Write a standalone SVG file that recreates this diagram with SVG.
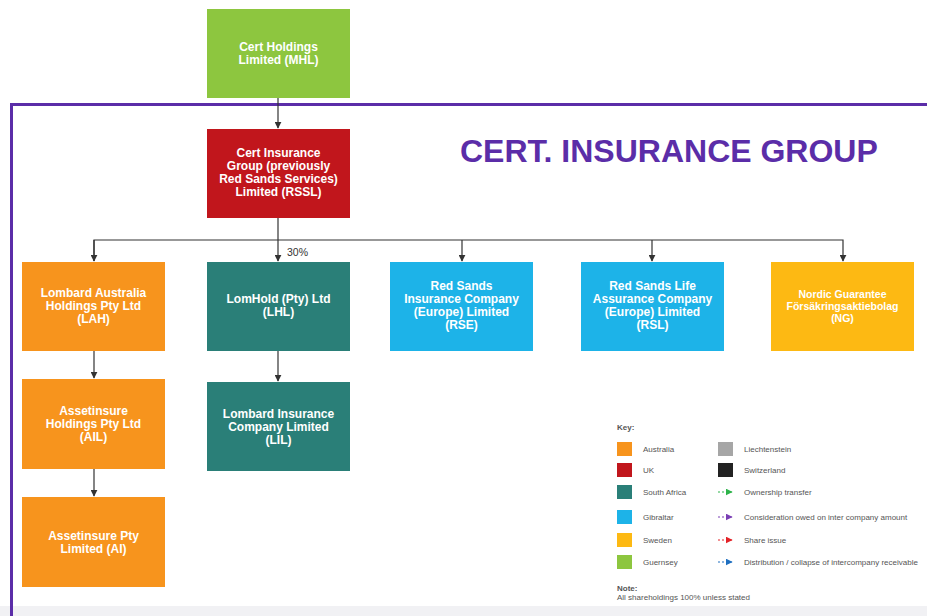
<svg xmlns="http://www.w3.org/2000/svg" width="927" height="616" viewBox="0 0 927 616">
<defs>
<marker id="ah" viewBox="0 0 10 10" refX="9" refY="5" markerWidth="7" markerHeight="7" orient="auto" markerUnits="userSpaceOnUse"><path d="M0,0 L10,5 L0,10 z" fill="#333"/></marker>
<marker id="kg" viewBox="0 0 10 10" refX="9" refY="5" markerWidth="7" markerHeight="7" orient="auto" markerUnits="userSpaceOnUse"><path d="M0,0 L10,5 L0,10 z" fill="#2DB34A"/></marker>
<marker id="kp" viewBox="0 0 10 10" refX="9" refY="5" markerWidth="7" markerHeight="7" orient="auto" markerUnits="userSpaceOnUse"><path d="M0,0 L10,5 L0,10 z" fill="#7B3FB5"/></marker>
<marker id="kr" viewBox="0 0 10 10" refX="9" refY="5" markerWidth="7" markerHeight="7" orient="auto" markerUnits="userSpaceOnUse"><path d="M0,0 L10,5 L0,10 z" fill="#E32227"/></marker>
<marker id="kb" viewBox="0 0 10 10" refX="9" refY="5" markerWidth="7" markerHeight="7" orient="auto" markerUnits="userSpaceOnUse"><path d="M0,0 L10,5 L0,10 z" fill="#1F6FC0"/></marker>
</defs>
<style>
.bt{font-family:"Liberation Sans",Arial,sans-serif;font-weight:bold;font-size:12px;fill:#fff;text-anchor:middle}
.ng{font-size:10.5px}
.kt{font-family:"Liberation Sans",Arial,sans-serif;font-size:8px;fill:#555}
.c{stroke:#333;stroke-width:1.2;fill:none}
.au{fill:#F7941D}.uk{fill:#C1161C}.za{fill:#2A7F78}.gi{fill:#1DB3E8}.se{fill:#FDB913}.gg{fill:#8DC63F}
</style>
<rect width="927" height="616" fill="#fff"/>
<rect x="0" y="606" width="927" height="10" fill="#F1F1F4"/>
<rect x="11.5" y="104.5" width="940" height="540" fill="none" stroke="#5B2DA8" stroke-width="3"/>
<text x="460" y="162" font-family="Liberation Sans,Arial,sans-serif" font-weight="bold" font-size="32" fill="#5B2DA8">CERT. INSURANCE GROUP</text>

<g id="connectors">
<line class="c" x1="278" y1="98" x2="278" y2="128" marker-end="url(#ah)"/>
<line class="c" x1="278" y1="218" x2="278" y2="261" marker-end="url(#ah)"/>
<path class="c" d="M94,261 V240 H843 V261" marker-end="url(#ah)"/>
<line class="c" x1="94" y1="240" x2="94" y2="261" marker-end="url(#ah)"/>
<line class="c" x1="462" y1="240" x2="462" y2="261" marker-end="url(#ah)"/>
<line class="c" x1="652" y1="240" x2="652" y2="261" marker-end="url(#ah)"/>
<line class="c" x1="94" y1="351" x2="94" y2="378" marker-end="url(#ah)"/>
<line class="c" x1="94" y1="469" x2="94" y2="496" marker-end="url(#ah)"/>
<line class="c" x1="278" y1="351" x2="278" y2="381" marker-end="url(#ah)"/>
<text x="287" y="256" font-family="Liberation Sans,Arial,sans-serif" font-size="10.5" fill="#333">30%</text>
</g>

<g id="MHL"><rect class="gg" x="207" y="9" width="143" height="89"/>
<text class="bt" x="278.5" y="51">Cert Holdings</text><text class="bt" x="278.5" y="64">Limited (MHL)</text></g>

<g id="RSSL"><rect class="uk" x="207" y="129" width="143" height="89"/>
<text class="bt" x="278.5" y="157">Cert Insurance</text><text class="bt" x="278.5" y="170">Group (previously</text><text class="bt" x="278.5" y="183">Red Sands Services)</text><text class="bt" x="278.5" y="196">Limited (RSSL)</text></g>

<g id="LAH"><rect class="au" x="22" y="262" width="143" height="89"/>
<text class="bt" x="93.5" y="297">Lombard Australia</text><text class="bt" x="93.5" y="310">Holdings Pty Ltd</text><text class="bt" x="93.5" y="323">(LAH)</text></g>

<g id="LHL"><rect class="za" x="207" y="262" width="143" height="89"/>
<text class="bt" x="278.5" y="303">LomHold (Pty) Ltd</text><text class="bt" x="278.5" y="316">(LHL)</text></g>

<g id="RSE"><rect class="gi" x="390" y="262" width="143" height="89"/>
<text class="bt" x="461.5" y="290">Red Sands</text><text class="bt" x="461.5" y="303">Insurance Company</text><text class="bt" x="461.5" y="316">(Europe) Limited</text><text class="bt" x="461.5" y="329">(RSE)</text></g>

<g id="RSL"><rect class="gi" x="581" y="262" width="143" height="89"/>
<text class="bt" x="652.5" y="290">Red Sands Life</text><text class="bt" x="652.5" y="303">Assurance Company</text><text class="bt" x="652.5" y="316">(Europe) Limited</text><text class="bt" x="652.5" y="329">(RSL)</text></g>

<g id="NG"><rect class="se" x="771" y="262" width="143" height="89"/>
<text class="bt ng" x="842.5" y="298">Nordic Guarantee</text><text class="bt ng" x="842.5" y="310">Försäkringsaktiebolag</text><text class="bt ng" x="842.5" y="322">(NG)</text></g>

<g id="AIL"><rect class="au" x="22" y="379" width="143" height="90"/>
<text class="bt" x="93.5" y="415">Assetinsure</text><text class="bt" x="93.5" y="428">Holdings Pty Ltd</text><text class="bt" x="93.5" y="441">(AIL)</text></g>

<g id="LIL"><rect class="za" x="207" y="382" width="143" height="89"/>
<text class="bt" x="278.5" y="418">Lombard Insurance</text><text class="bt" x="278.5" y="431">Company Limited</text><text class="bt" x="278.5" y="444">(LIL)</text></g>

<g id="AI"><rect class="au" x="22" y="497" width="143" height="90"/>
<text class="bt" x="93.5" y="540">Assetinsure Pty</text><text class="bt" x="93.5" y="553">Limited (AI)</text></g>

<g id="key">
<text class="kt" x="617" y="430" font-weight="bold">Key:</text>
<rect class="au" x="617" y="442" width="15" height="14"/><text class="kt" x="643" y="452">Australia</text>
<rect class="uk" x="617" y="463" width="15" height="14"/><text class="kt" x="643" y="473">UK</text>
<rect class="za" x="617" y="485" width="15" height="14"/><text class="kt" x="643" y="495">South Africa</text>
<rect class="gi" x="617" y="510" width="15" height="14"/><text class="kt" x="643" y="520">Gibraltar</text>
<rect class="se" x="617" y="533" width="15" height="14"/><text class="kt" x="643" y="543">Sweden</text>
<rect class="gg" x="617" y="555" width="15" height="14"/><text class="kt" x="643" y="565">Guernsey</text>
<rect fill="#A6A6A6" x="718" y="442" width="15" height="14"/><text class="kt" x="744" y="452">Liechtenstein</text>
<rect fill="#222" x="718" y="463" width="15" height="14"/><text class="kt" x="744" y="473">Switzerland</text>
<line x1="718" y1="492" x2="732" y2="492" stroke="#2DB34A" stroke-width="1" stroke-dasharray="2,2" marker-end="url(#kg)"/><text class="kt" x="744" y="495">Ownership transfer</text>
<line x1="718" y1="517" x2="732" y2="517" stroke="#7B3FB5" stroke-width="1" stroke-dasharray="2,2" marker-end="url(#kp)"/><text class="kt" x="744" y="520">Consideration owed on inter company amount</text>
<line x1="718" y1="540" x2="732" y2="540" stroke="#E32227" stroke-width="1" stroke-dasharray="2,2" marker-end="url(#kr)"/><text class="kt" x="744" y="543">Share issue</text>
<line x1="718" y1="562" x2="732" y2="562" stroke="#1F6FC0" stroke-width="1" stroke-dasharray="2,2" marker-end="url(#kb)"/><text class="kt" x="744" y="565">Distribution / collapse of intercompany receivable</text>
<text class="kt" x="617" y="591" font-weight="bold">Note:</text>
<text class="kt" x="617" y="600">All shareholdings 100% unless stated</text>
</g>
</svg>
